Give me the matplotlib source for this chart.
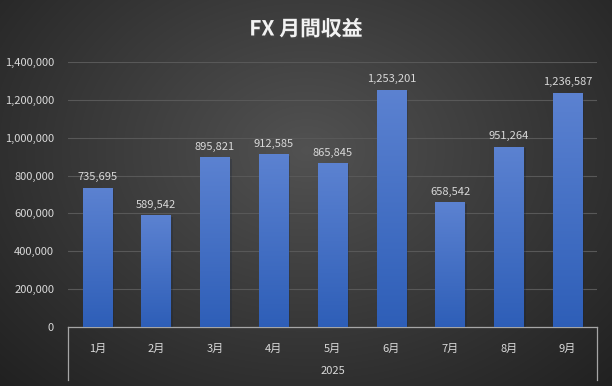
"""FX 月間収益 (2025) — barres mensuelles, thème sombre type Excel."""

import matplotlib

matplotlib.use("Agg")

import matplotlib.pyplot as plt
import numpy as np
from matplotlib import patheffects
from matplotlib.ticker import FuncFormatter, MultipleLocator

plt.rcParams["font.family"] = ["Noto Sans CJK JP", "DejaVu Sans"]

TITLE = "FX 月間収益"
YEAR = "2025"
months = ["1月", "2月", "3月", "4月", "5月", "6月", "7月", "8月", "9月"]
profits = [735695, 589542, 895821, 912585, 865845, 1253201, 658542, 951264, 1236587]
y_max = 1400000
y_step = 200000

W, H = 612, 386
fig = plt.figure(figsize=(W / 100, H / 100), dpi=100)

# Fond : dégradé radial sombre (centre plus clair)
bg = fig.add_axes([0, 0, 1, 1], zorder=-10)
yy, xx = np.mgrid[0:H, 0:W]
d = np.sqrt(((xx - 306) / 430) ** 2 + ((yy - 150) / 330) ** 2)
shade = np.clip(0.32 - 0.19 * d, 0.11, 0.32)
bg.imshow(np.dstack([shade] * 3), aspect="auto", extent=[0, 1, 0, 1], origin="upper")
bg.set_axis_off()

left, right, top, bottom = 68, 597, 62, 327
ax = fig.add_axes([left / W, 1 - bottom / H, (right - left) / W, (bottom - top) / H])
ax.set_facecolor("none")

x = np.arange(len(months))
bars = ax.bar(x, profits, width=0.5, color="#2f5fb8", zorder=3)

# Dégradé vertical dans chaque barre
grad = np.linspace(0, 1, 256).reshape(-1, 1)
top_c = np.array([0.36, 0.51, 0.82])
bot_c = np.array([0.18, 0.37, 0.72])
img = top_c * (1 - grad[..., None]) + bot_c * grad[..., None]
for b in bars:
    b.set_path_effects([patheffects.SimplePatchShadow(offset=(1.5, -1), alpha=0.22), patheffects.Normal()])
    im = ax.imshow(img, aspect="auto", origin="upper", zorder=4,
                   extent=[b.get_x(), b.get_x() + b.get_width(), 0, b.get_height()])
    im.set_clip_path(b)

for xi, v in zip(x, profits):
    ax.annotate(f"{v:,}", (xi, v), xytext=(0, 4), textcoords="offset points",
                ha="center", va="bottom", fontsize=8, color="#d9d9d9", zorder=5)

ax.set_xlim(-0.5, len(months) - 0.5)
ax.set_ylim(0, y_max)
ax.yaxis.set_major_locator(MultipleLocator(y_step))
ax.yaxis.set_major_formatter(FuncFormatter(lambda v, _: f"{int(v):,}"))
ax.grid(axis="y", color="#585858", linewidth=0.8, zorder=0)
ax.tick_params(axis="y", length=0, labelsize=8, labelcolor="#d9d9d9", pad=10)
ax.set_xticks(x)
ax.set_xticklabels(months)
ax.tick_params(axis="x", length=0, labelsize=8, labelcolor="#d9d9d9", pad=12)
for side in ("top", "right", "left"):
    ax.spines[side].set_visible(False)
ax.spines["bottom"].set_color("#a6a6a6")
ax.spines["bottom"].set_linewidth(0.9)

# Bordures verticales de l'axe des catégories (niveau année)
drop = (380 - bottom) / (bottom - top)
for xa in (0, 1):
    ax.plot([xa, xa], [0, -drop], transform=ax.transAxes, clip_on=False,
            color="#a6a6a6", linewidth=0.9)
ax.text(0.5, -(371 - bottom) / (bottom - top), YEAR, transform=ax.transAxes,
        ha="center", va="center", fontsize=8, color="#d9d9d9")

fig.text(0.5, 1 - 29 / H, TITLE, ha="center", va="center", fontsize=15,
         fontweight="bold", color="#f2f2f2",
         path_effects=[patheffects.withSimplePatchShadow(offset=(1, -1.5), alpha=0.6)])

fig.savefig("out.png", dpi=100)
